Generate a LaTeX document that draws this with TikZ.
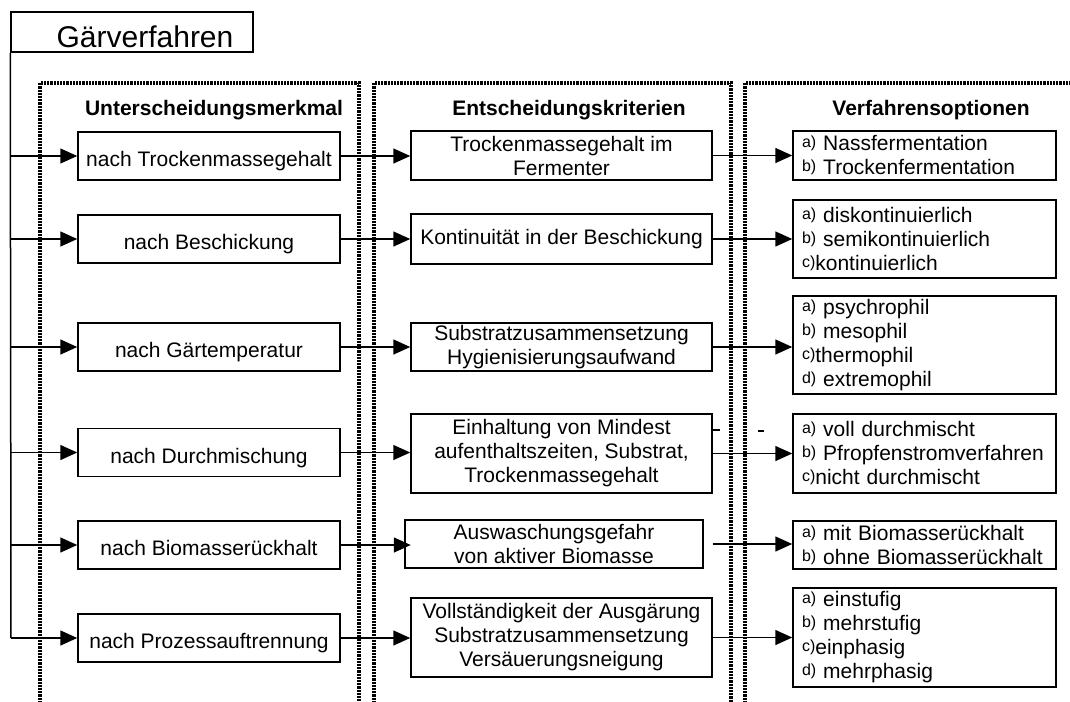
\documentclass[tikz,border=0pt]{standalone}
\usepackage{fontspec}
\setmainfont{Liberation Sans}
\usetikzlibrary{arrows.meta}
\newcommand{\optmark}[1]{\raisebox{3pt}{\fontsize{16}{16}\selectfont #1}}
\tikzset{
  rahmen/.style={line width=3.6pt, dash pattern=on 2.2pt off 1pt},
  linie/.style={line width=1.5pt},
  pfeil/.style={line width=1.5pt, -{Triangle[length=17pt,width=15pt]}},
  kopf/.style={font=\fontsize{21}{24}\selectfont\bfseries},
  merkmal/.style={draw, line width=1.5pt, minimum width=262pt, minimum height=48pt,
    inner sep=0pt, font=\fontsize{21}{24}\selectfont, text height=21pt, text depth=0pt},
  kriterium/.style={draw, line width=1.5pt, minimum width=301pt, inner sep=0pt,
    align=center, font=\fontsize{21}{24}\selectfont},
  option/.style={draw, line width=1.5pt, text width=245pt, inner xsep=9pt, inner ysep=0pt,
    align=left, font=\fontsize{21}{24}\selectfont}
}
\begin{document}
\begin{tikzpicture}[x=1pt,y=-1pt]
\useasboundingbox (0,0) rectangle (1070,701);

% gepunktete Spalten
\draw[rahmen] (40,703) -- (40,83) -- (359,83) -- (359,703);
\draw[rahmen] (374,703) -- (374,83) -- (731,83) -- (731,703);
\draw[rahmen] (745,703) -- (745,83) -- (1074,83);

\node[kopf] (h1) at (214,110) {Unterscheidungsmerkmal};
\node[kopf] (h2) at (569,110) {Entscheidungskriterien};
\node[kopf] (h3) at (931,110) {Verfahrensoptionen};

% Titel
\node[draw, linie, minimum width=242pt, minimum height=40pt, inner sep=0pt] (gv) at (132,32) {};
\node[font=\fontsize{30}{36}\selectfont] (gvname) at (145,37) {Gärverfahren};

% Unterscheidungsmerkmal
\node[merkmal] (u1) at (209,156) {nach Trockenmassegehalt};
\node[merkmal] (u2) at (209,239) {nach Beschickung};
\node[merkmal] (u3) at (209,347) {nach Gärtemperatur};
\node[merkmal] (u4) at (209,452.5) {nach Durchmischung};
\node[merkmal] (u5) at (209,545) {nach Biomasserückhalt};
\node[merkmal] (u6) at (209,638) {nach Prozessauftrennung};

% Entscheidungskriterien
\node[kriterium, minimum height=49pt] (k1) at (561.5,155.5) {Trockenmassegehalt im\\Fermenter};
\node[kriterium, minimum height=50pt] (k2) at (561.5,239) {Kontinuität in der Beschickung};
\node[kriterium, minimum height=48pt] (k3) at (561.5,347) {Substratzusammensetzung\\Hygienisierungsaufwand};
\node[kriterium, minimum height=79pt] (k4) at (561.5,453.5) {Einhaltung von Mindest\\aufenthaltszeiten, Substrat,\\Trockenmassegehalt};
\node[kriterium, minimum width=298pt, minimum height=48pt] (k5) at (554,544) {Auswaschungsgefahr\\von aktiver Biomasse};
\node[kriterium, minimum height=79pt] (k6) at (561.5,637.5) {Vollständigkeit der Ausgärung\\Substratzusammensetzung\\Versäuerungsneigung};

% Verfahrensoptionen
\node[option, minimum height=49pt] (v1) at (924.5,155.5) {\optmark{a)} Nassfermentation\\\optmark{b)} Trockenfermentation};
\node[option, minimum height=78pt] (v2) at (924.5,239) {\optmark{a)} diskontinuierlich\\\optmark{b)} semikontinuierlich\\\optmark{c)}kontinuierlich};
\node[option, minimum height=98pt] (v3) at (924.5,345) {\optmark{a)} psychrophil\\\optmark{b)} mesophil\\\optmark{c)}thermophil\\\optmark{d)} extremophil};
\node[option, minimum height=79pt] (v4) at (924.5,453.5) {\optmark{a)} voll durchmischt\\\optmark{b)} Pfropfenstromverfahren\\\optmark{c)}nicht durchmischt};
\node[option, minimum height=48pt] (v5) at (924.5,545) {\optmark{a)} mit Biomasserückhalt\\\optmark{b)} ohne Biomasserückhalt};
\node[option, minimum height=99pt] (v6) at (924.5,637.5) {\optmark{a)} einstufig\\\optmark{b)} mehrstufig\\\optmark{c)}einphasig\\\optmark{d)} mehrphasig};

% Verzweigung
\coordinate (m1) at (11,156);
\coordinate (m2) at (11,239);
\coordinate (m3) at (11,347);
\coordinate (m4) at (11,452.5);
\coordinate (m5) at (11,545);
\coordinate (m6) at (11,638);
\draw[linie] (gv.south west) -- (m6);

\foreach \i in {1,2,3,4,6}{
  \draw[pfeil] (m\i) -- (m\i -| u\i.west);
  \draw[pfeil] (u\i.east) -- (u\i.east -| k\i.west);
  \draw[pfeil] (k\i.east) -- (k\i.east -| v\i.west);
}
\draw[pfeil] (m5) -- (m5 -| u5.west);
\draw[pfeil] (u5.east) -- ++(70,0);
\draw[pfeil] ([xshift=9pt]k5.east) -- (k5.east -| v5.west);

% kleine Striche
\draw[linie] ([yshift=23.5pt]k4.east) -- ++(7,0);
\draw[linie] (758,431) -- (764,431);
\end{tikzpicture}
\end{document}
